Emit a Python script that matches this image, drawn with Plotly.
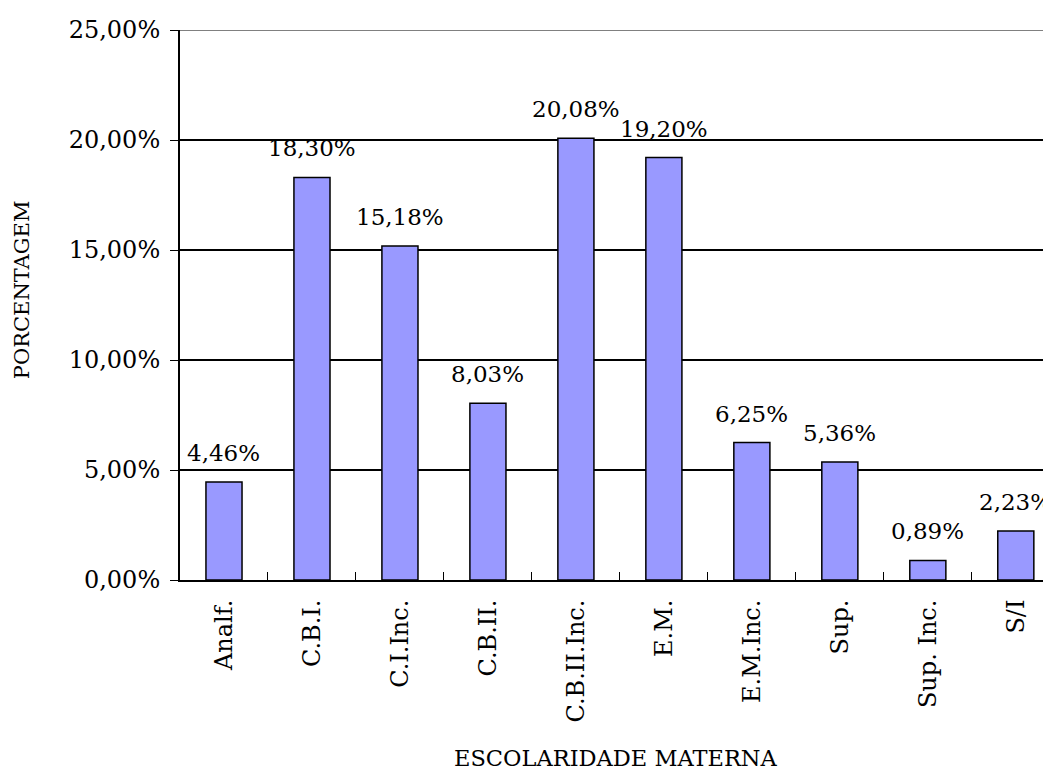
import plotly.graph_objects as go

categorias = ["Analf.", "C.B.I.", "C.I.Inc.", "C.B.II.", "C.B.II.Inc.",
              "E.M.", "E.M.Inc.", "Sup.", "Sup. Inc.", "S/I"]
percentuais = [4.46, 18.30, 15.18, 8.03, 20.08, 19.20, 6.25, 5.36, 0.89, 2.23]
rotulos = [f"{v:.2f}%".replace(".", ",") for v in percentuais]

FONTE = "DejaVu Serif"

fig = go.Figure()
fig.add_trace(go.Bar(
    x=categorias,
    y=percentuais,
    marker=dict(color="#9999FF", line=dict(color="black", width=1.5)),
    width=0.41,
))

# rótulos de dados acima das barras
for cat, val, txt in zip(categorias, percentuais, rotulos):
    fig.add_annotation(
        x=cat, y=val, text=txt, showarrow=False,
        xanchor="center", yanchor="middle", yshift=29,
        font=dict(family=FONTE, size=23, color="black"),
    )

# a página tem 8px de margem no body: a figura começa em (8, 8)
fig.update_layout(
    width=1043,
    height=768,
    margin=dict(l=172, r=0, t=22, b=196),
    paper_bgcolor="white",
    plot_bgcolor="white",
    separators=",.",
    font=dict(family=FONTE, size=24, color="black"),
    showlegend=False,
    xaxis=dict(
        range=[-0.5, 9.4],
        tickangle=-90,
        tickson="boundaries",
        ticks="inside",
        ticklen=8,
        tickcolor="black",
        ticklabelstandoff=8,
        showline=True,
        linecolor="black",
        linewidth=2,
        showgrid=False,
        tickfont=dict(family=FONTE, size=24),
    ),
    yaxis=dict(
        range=[0, 25],
        dtick=5,
        tickformat=".2f",
        ticksuffix="%",
        ticks="outside",
        ticklen=8,
        tickcolor="black",
        ticklabelstandoff=5,
        showline=True,
        linecolor="black",
        linewidth=2,
        showgrid=True,
        gridcolor="black",
        gridwidth=1.5,
        zeroline=False,
        tickfont=dict(family=FONTE, size=24),
    ),
)

fig.add_annotation(text="PORCENTAGEM", textangle=-90, xref="paper", yref="paper",
                   x=-0.1814, y=0.527, xanchor="center", yanchor="middle",
                   showarrow=False, font=dict(family=FONTE, size=21, color="black"))
fig.add_annotation(text="ESCOLARIDADE MATERNA", xref="paper", yref="paper",
                   x=0.5, y=-0.3236, xanchor="center", yanchor="middle",
                   showarrow=False, font=dict(family=FONTE, size=22.5, color="black"))

# linha superior cinza em 25%
fig.add_shape(type="line", xref="paper", yref="y", x0=0, x1=1, y0=25, y1=25,
              line=dict(color="#808080", width=2))

fig.write_html("out.html")
